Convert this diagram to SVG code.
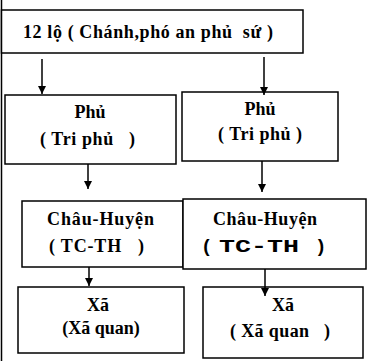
<svg xmlns="http://www.w3.org/2000/svg" width="368" height="361" viewBox="0 0 368 361">
<style>
.box{fill:#fff;stroke:#000;stroke-width:1.5}
.t{font-family:"Liberation Serif","Times New Roman",serif;font-weight:bold;font-size:18px;fill:#000;white-space:pre}
.m{font-family:"Liberation Mono","Courier New",monospace;font-weight:bold;font-size:19px;fill:#000;white-space:pre}
.c{stroke:#000;stroke-width:1.5;fill:none}
</style>
<defs>
<marker id="ah" viewBox="0 0 10 10" refX="10" refY="5" markerWidth="8" markerHeight="8" markerUnits="userSpaceOnUse" orient="auto">
<path d="M0,0 L10,5 L0,10 z" fill="#000"/>
</marker>
</defs>
<rect width="368" height="361" fill="#fff"/>
<line x1="1.5" y1="0" x2="1.5" y2="361" stroke="#000" stroke-width="1.5"/>
<g id="n-lo">
<rect class="box" x="1.5" y="10" width="301.5" height="43"/>
<text class="t" x="23" y="38" textLength="250" lengthAdjust="spacing">12 lộ ( Chánh,phó an phủ  sứ )</text>
</g>
<g id="n-phu1">
<rect class="box" x="5" y="95" width="171" height="69"/>
<text class="t" x="90" y="118" text-anchor="middle">Phủ</text>
<text class="t" x="40" y="145" textLength="95" lengthAdjust="spacing">( Tri phủ   )</text>
</g>
<g id="n-phu2">
<rect class="box" x="182" y="92" width="156" height="69"/>
<text class="t" x="260" y="115" text-anchor="middle">Phủ</text>
<text class="t" x="218" y="140" textLength="84" lengthAdjust="spacing">( Tri phủ )</text>
</g>
<g id="n-ch1">
<rect class="box" x="22" y="201" width="161" height="66"/>
<text class="t" x="47" y="225" textLength="107" lengthAdjust="spacing">Châu-Huyện</text>
<text class="t" x="49" y="252" textLength="95" lengthAdjust="spacing">( TC-TH   )</text>
</g>
<g id="n-ch2">
<rect class="box" x="183" y="199" width="183" height="70"/>
<text class="t" x="213" y="225" textLength="104" lengthAdjust="spacing">Châu-Huyện</text>
<text class="m" y="252"><tspan x="201">(</tspan><tspan x="219" textLength="80" lengthAdjust="spacingAndGlyphs">TC-TH</tspan><tspan x="315">)</tspan></text>
</g>
<g id="n-xa1">
<rect class="box" x="18" y="287" width="166" height="66"/>
<text class="t" x="98" y="311" text-anchor="middle">Xã</text>
<text class="t" x="101" y="334" text-anchor="middle">(Xã quan)</text>
</g>
<g id="n-xa2">
<rect class="box" x="203" y="287" width="160" height="71"/>
<text class="t" x="283" y="311" text-anchor="middle">Xã</text>
<text class="t" x="230" y="337" textLength="100" lengthAdjust="spacing">( Xã quan   )</text>
</g>
<g id="connectors">
<line class="c" x1="42" y1="59" x2="42" y2="94" marker-end="url(#ah)"/>
<line class="c" x1="264" y1="57" x2="264" y2="95" marker-end="url(#ah)"/>
<line class="c" x1="88" y1="164" x2="88" y2="189" marker-end="url(#ah)"/>
<line class="c" x1="262" y1="161" x2="262" y2="192" marker-end="url(#ah)"/>
<line class="c" x1="89" y1="267" x2="89" y2="286" marker-end="url(#ah)"/>
<line class="c" x1="265" y1="269" x2="265" y2="296" marker-end="url(#ah)"/>
</g>
</svg>
